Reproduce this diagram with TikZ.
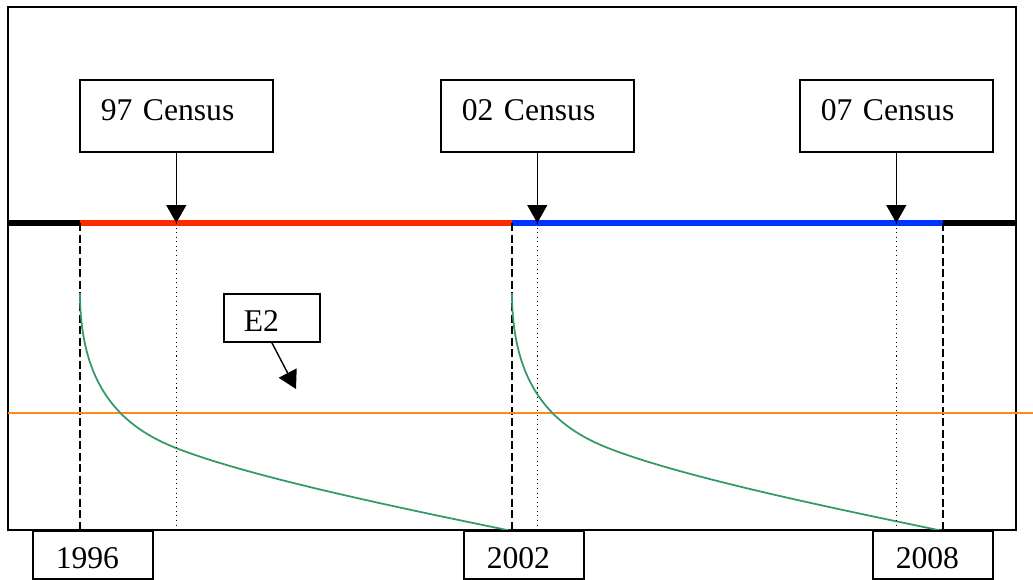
\documentclass[tikz,border=0pt]{standalone}
\usepackage{fontspec}
\setmainfont{Liberation Serif}
\usetikzlibrary{positioning,calc,arrows.meta}
\definecolor{censusred}{HTML}{FF2A00}
\definecolor{censusblue}{HTML}{0033FF}
\definecolor{decaygreen}{HTML}{339966}
\definecolor{baseorange}{HTML}{FF8A1A}
% census box with arrow down onto the timeline and a dotted drop line
\newcommand{\censusmark}[3]{%
  \node[tagbox,minimum width=3.86cm,minimum height=1.44cm,text width=3.02cm,
        inner xsep=0.42cm,text height=0.5cm,text depth=0.3cm] (#1) at (#2,79) {#3};
  \coordinate (#1tip) at (#1.south |- tl);
  \coordinate (#1foot) at (#1.south |- fb);
  \draw[-{Triangle[width=0.4cm,length=0.36cm]},line width=0.8pt] (#1.south) -- (#1tip);
  \draw[dotted,line width=0.6pt] (#1tip) -- (#1foot);
}

\begin{document}
\begin{tikzpicture}[x=0.02cm,y=-0.02cm,
  tagbox/.style={draw=black,line width=0.9pt,fill=white,align=left,inner ysep=0pt,
                 anchor=north west,font=\fontsize{18}{20}\selectfont},
  period/.style={line width=3.4pt},
  decay/.style={decaygreen,line width=1pt}]
  \useasboundingbox (0,0) rectangle (1033,579);
  \draw[line width=0.8pt] (8,7) rectangle (1016,530);
  \coordinate (tl) at (0,223);
  \coordinate (fb) at (0,530);

  % timeline
  \coordinate (t0) at (8,223);
  \coordinate (ya) at (80,223);
  \coordinate (yb) at (512,223);
  \coordinate (yc) at (943,223);
  \coordinate (t1) at (1016,223);
  \draw[period,black] (t0) -- (ya);
  \draw[period,censusred] (ya) -- (yb);
  \draw[period,censusblue] (yb) -- (yc);
  \draw[period,black] (yc) -- (t1);
  \foreach \p in {ya,yb,yc}
    \draw[dash pattern=on 0.16cm off 0.07cm,line width=0.8pt] (\p) -- (\p |- fb);

  % base level
  \coordinate (o0) at (8,413);
  \coordinate (o1) at (1033,413);
  \draw[baseorange,line width=1pt] (o0) -- (o1);

  % decay curves
  \draw[decay] (80,293) .. controls (80,390) and (125,428) .. (176,448)
               .. controls (250,477) and (400,508) .. (512,531);
  \draw[decay] (512,293) .. controls (512,390) and (557,428) .. (608,448)
               .. controls (682,477) and (832,508) .. (943,531);

  \censusmark{c97}{79}{97 Census}
  \censusmark{c02}{440}{02 Census}
  \censusmark{c07}{799}{07 Census}

  % E2 label
  \node[tagbox,minimum width=1.92cm,minimum height=0.96cm,text width=1.12cm,
        inner xsep=0.4cm,text height=0.7cm,text depth=0.14cm] (e2) at (223,293) {E2};
  \coordinate (e2tip) at (296,389);
  \draw[-{Triangle[width=0.4cm,length=0.36cm]},line width=0.8pt] (e2.south) -- (e2tip);

  % years
  \foreach \x/\n/\yr in {32/y96/1996,463/y02/2002,872/y08/2008}
    \node[tagbox,minimum width=2.4cm,minimum height=0.96cm,text width=1.48cm,
          inner xsep=0.46cm,text height=0.6cm,text depth=0.04cm] (\n) at (\x,530) {\yr};
\end{tikzpicture}
\end{document}
